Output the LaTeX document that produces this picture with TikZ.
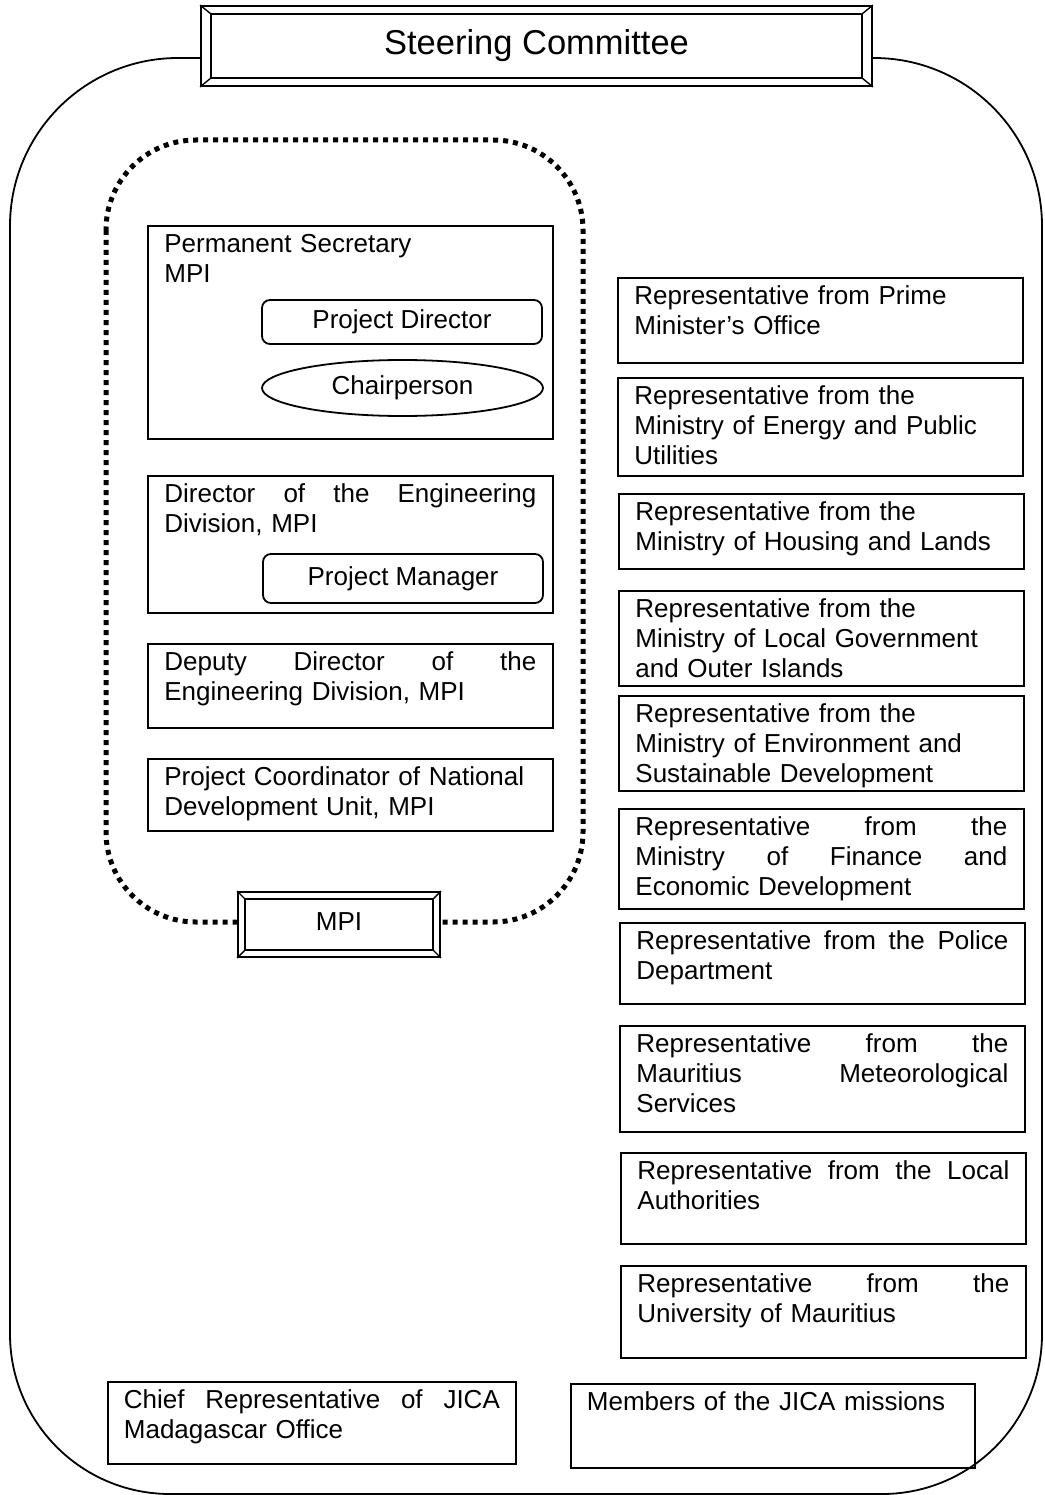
\documentclass[tikz,border=0pt]{standalone}
\usepackage{fontspec}
\setmainfont{Liberation Sans}
\usetikzlibrary{shapes.geometric}
\newcommand\spread[1]{{\spaceskip=0pt\xspaceskip=0pt\makebox[\hsize][s]{#1}}}
\tikzset{
  body/.style={font=\fontsize{26}{30}\selectfont},
  frame/.style={line width=1.8},
  dots/.style={line width=5, dash pattern=on 5 off 5},
  panel/.style={draw, frame, anchor=north west, body, align=left,
    text width=372, inner xsep=16.5, inner ysep=0, text height=27, text depth=#1-27},
  role/.style={draw, frame, rounded corners=8, body, minimum width=280, minimum height=44, inner sep=0},
  chair/.style={ellipse, draw, frame, body, minimum width=281, minimum height=56, inner sep=0},
  bevel/.style={draw, frame, fill=white, inner sep=0}
}
\begin{document}
\begin{tikzpicture}[x=1pt,y=-1pt]
\useasboundingbox (0,0) rectangle (1044,1495);
\node[bevel, minimum width=671, minimum height=80, font=\fontsize{34.5}{40}\selectfont] (sc) at (536.5,46) {\raisebox{3pt}{Steering Committee}};
\draw[frame] ([yshift=-12pt]sc.west) [rounded corners=168] -| (10,700) [rounded corners=160] |- (526,1494)
  -| (1042,700) [rounded corners=168] |- ([yshift=-12pt]sc.east);
\draw[dots, rounded corners=90] (106,140) rectangle (583,922);
\node[bevel, minimum width=202, minimum height=65, body] (mpi) at (339,924.5) {\raisebox{6pt}{MPI}};
\foreach \n/\dx/\dy in {sc/11/9, mpi/8/8}{
  \draw[line width=1.4] ([shift={(\dx,\dy)}]\n.north west) rectangle ([shift={(-\dx,-\dy)}]\n.south east);
  \draw[line width=1.4] (\n.north west) -- ++(\dx,\dy) (\n.north east) -- ++(-\dx,\dy)
    (\n.south west) -- ++(\dx,-\dy) (\n.south east) -- ++(-\dx,-\dy);
}

\node[panel=213] (ps) at (147,225) {Permanent Secretary\\MPI};
\node[role] (pd) at (402,322) {Project Director};
\node[chair] (cp) at (402.5,388) {Chairperson};
\node[panel=137] (ed) at (147,475) {\spread{Director of the Engineering}\\Division, MPI};
\node[role, minimum height=49] (pm) at (403,578.5) {Project Manager};
\node[panel=84] (dd) at (147,643) {\spread{Deputy Director of the}\\Engineering Division, MPI};
\node[panel=72] (nd) at (147,758) {Project Coordinator of National\\Development Unit, MPI};

\node[panel=85] (pmo) at (617,277) {Representative from Prime\\Minister's Office};
\node[panel=98] (mep) at (617,377) {Representative from the\\Ministry of Energy and Public\\Utilities};
\node[panel=75] (mhl) at (618,493) {Representative from the\\Ministry of Housing and Lands};
\node[panel=95] (mlg) at (618,590) {Representative from the\\Ministry of Local Government\\and Outer Islands};
\node[panel=95] (mes) at (618,695) {Representative from the\\Ministry of Environment and\\Sustainable Development};
\node[panel=100] (mfe) at (618,808) {\spread{Representative from the}\\\spread{Ministry of Finance and}\\Economic Development};
\node[panel=81] (pol) at (619,922) {\spread{Representative from the Police}\\Department};
\node[panel=106] (mms) at (619,1025) {\spread{Representative from the}\\\spread{Mauritius Meteorological}\\Services};
\node[panel=91] (loc) at (620,1152) {\spread{Representative from the Local}\\Authorities};
\node[panel=92] (uom) at (620,1265) {\spread{Representative from the}\\University of Mauritius};

\node[panel=82, text width=376, inner xsep=16] (jica) at (107,1381) {\spread{Chief Representative of JICA}\\Madagascar Office};
\node[panel=84, text width=372, inner xsep=16] (mis) at (570,1383) {Members of the JICA missions};
\end{tikzpicture}
\end{document}
